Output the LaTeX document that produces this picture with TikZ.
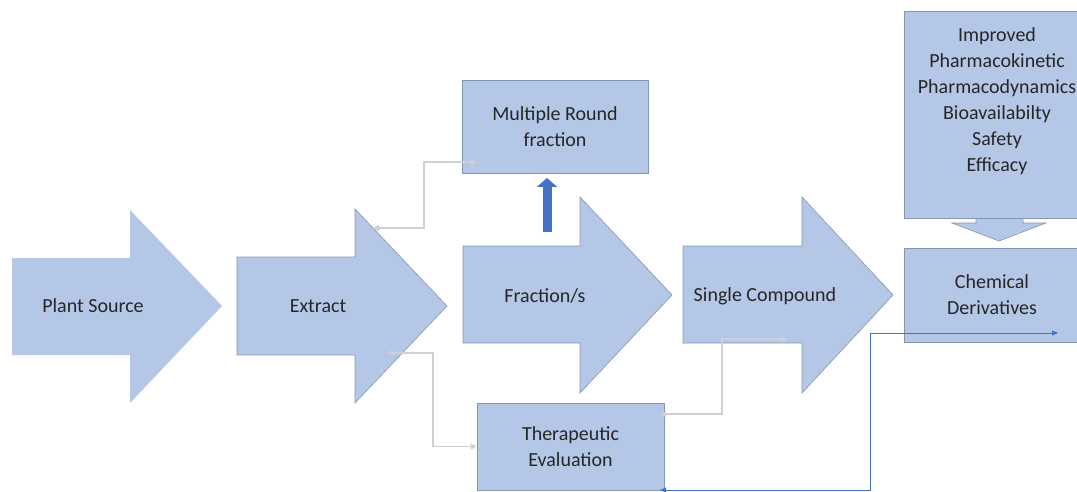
\documentclass[tikz,border=0pt]{standalone}
\usepackage{fontspec}
\setmainfont{Carlito}
\usetikzlibrary{arrows.meta}
\definecolor{boxblue}{HTML}{B4C7E7}
\definecolor{boxedge}{HTML}{8497B0}
\definecolor{linkgray}{HTML}{CDD1D7}
\definecolor{linkblue}{HTML}{4472C4}

\begin{document}
\begin{tikzpicture}[x=1pt, y=-1pt,
    blockarrow/.style={fill=boxblue, draw=boxedge, line width=0.6pt},
    box/.style={fill=boxblue, draw=boxedge, line width=0.8pt, align=center, inner sep=0pt,
        font=\fontsize{20}{26}\selectfont, text=black!85},
    steptext/.style={font=\fontsize{20}{26}\selectfont, align=center, text=black!85},
    link/.style={draw=linkgray, line width=1.5pt,
        {Triangle[length=6pt,width=6pt]}-{Triangle[length=6pt,width=6pt]}},
    bluelink/.style={draw=linkblue, line width=0.8pt,
        {Triangle[length=6pt,width=5pt]}-{Triangle[length=6pt,width=5pt]}},
    uparrow/.style={draw=linkblue, line width=9pt, -{Triangle[length=9pt,width=20pt]}}]
    \useasboundingbox (0,0) rectangle (1077,492);
    \clip (0,0) rectangle (1077,492);

    \fill[boxblue] (12,258) -- (130,258) -- (130,210) -- (222,306) -- (130,403) -- (130,355) -- (12,355) -- cycle;
    \node[steptext] (plant) at (93,306) {Plant Source};

    \draw[blockarrow] (237,257) -- (355,257) -- (355,209) -- (447,306) -- (355,403) -- (355,355) -- (237,355) -- cycle;
    \node[steptext] (extract) at (318,306) {Extract};

    \draw[blockarrow] (463,246) -- (580,246) -- (580,197) -- (672,295) -- (580,393) -- (580,343) -- (463,343) -- cycle;
    \node[steptext] (fraction) at (545,296) {Fraction/s};

    \draw[blockarrow] (683,246) -- (802,246) -- (802,197) -- (893,295) -- (802,393) -- (802,343) -- (683,343) -- cycle;
    \node[steptext] (single) at (765,296) {Single Compound};

    \node[box, minimum width=186pt, minimum height=93pt] (mrf) at (555,126.5) {Multiple Round\\fraction};
    \node[box, minimum width=187pt, minimum height=87pt] (therapy) at (570.5,446.5) {Therapeutic\\Evaluation};

    \draw[blockarrow] (976,216) -- (976,223) -- (952,223) -- (999,241) -- (1046,223) -- (1023,223) -- (1023,216) -- cycle;
    \node[box, minimum width=186pt, minimum height=207pt] (improv) at (997,114.5) {};
    \node[steptext] (improvtext) at (997,101) {Improved\\Pharmacokinetic\\Pharmacodynamics\\Bioavailabilty\\Safety\\Efficacy};
    \node[box, minimum width=176pt, minimum height=94pt] (chem) at (992,295) {Chemical\\Derivatives};

    \coordinate (ext-up) at (373,228);
    \coordinate (ext-dn) at (387,353);
    \coordinate (mrf-in) at (477,162);
    \coordinate (ther-out) at (660,414);
    \coordinate (sc-in) at (787,339);
    \coordinate (ther-foot) at (660,490);
    \coordinate (chem-in) at (1058,333);
    \coordinate (frac-top) at (547,232);
    \coordinate (mrf-foot) at (547,178);

    \draw[uparrow] (frac-top) -- (mrf-foot);
    \draw[link] (ext-up) -- ++(51,0) |- (mrf-in);
    \draw[link] (ext-dn) -- ++(46,0) |- (therapy.west);
    \draw[link] (ther-out) -- ++(62,0) |- (sc-in);
    \draw[bluelink] (ther-foot) -- ++(210,0) |- (chem-in);
\end{tikzpicture}
\end{document}
